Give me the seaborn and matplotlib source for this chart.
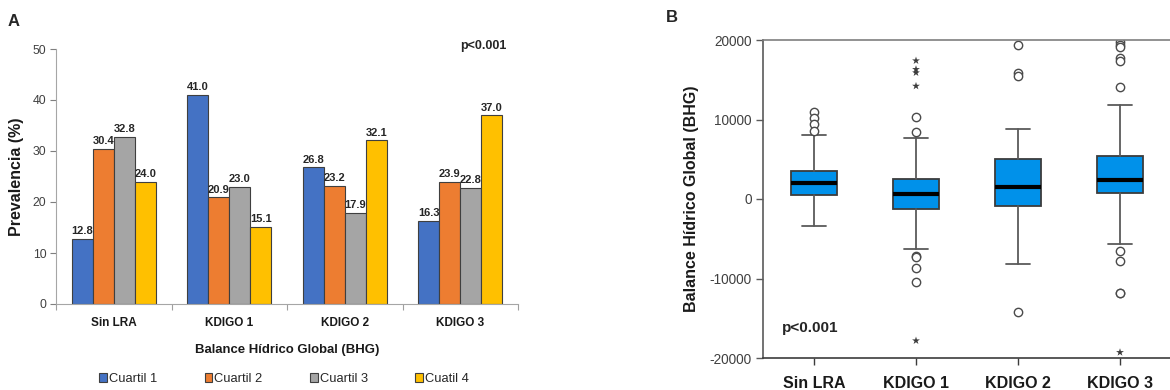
import matplotlib
matplotlib.use('Agg')
import matplotlib.pyplot as plt
from matplotlib import font_manager
import seaborn as sns
import pandas as pd
import numpy as np

# ---------------- data ----------------
grupos = ['Sin LRA', 'KDIGO 1', 'KDIGO 2', 'KDIGO 3']
cuartiles = ['Cuartil 1', 'Cuartil 2', 'Cuartil 3', 'Cuatil 4']
prev_c1 = [12.8, 41.0, 26.8, 16.3]
prev_c2 = [30.4, 20.9, 23.2, 23.9]
prev_c3 = [32.8, 23.0, 17.9, 22.8]
prev_c4 = [24.0, 15.1, 32.1, 37.0]

bhg_q1 = [465, -1300, -840, 755]
bhg_med = [1970, 590, 1470, 2350]
bhg_q3 = [3560, 2480, 5070, 5410]
bhg_whislo = [-3400, -6290, -8220, -5700]
bhg_whishi = [8090, 7710, 8810, 11820]
bhg_out_circ = [[10980, 10190, 9400, 8590],
                [10350, 8390, -7130, -7260, -8720, -10400],
                [19370, 15810, 15510, -14180],
                [19790, 19370, 19160, 17700, 17400, 14130, -6500, -7760, -11790, -11830]]
bhg_out_star = [[], [17400, 16310, 15890, 14210, -17820], [], [-19290]]

# ---------------- style ----------------
sns.set_theme(style='ticks')
names = {f.name for f in font_manager.fontManager.ttflist}
NARROW = 'Liberation Sans Narrow' in names
plt.rcParams['font.family'] = ['Liberation Sans', 'DejaVu Sans']
plt.rcParams['axes.unicode_minus'] = False
nf = ['Liberation Sans Narrow', 'Liberation Sans', 'DejaVu Sans'] if NARROW else ['Liberation Sans', 'DejaVu Sans']
k = 1.0 if NARROW else 0.82

fig = plt.figure(figsize=(11.7, 3.9), dpi=100)
W, H = 1170, 390

def pos(l, t, r, b):
    return [l / W, 1 - b / H, (r - l) / W, (b - t) / H]

# ---------------- panel A ----------------
ax1 = fig.add_axes(pos(56, 49, 518, 304))
df = pd.DataFrame({
    'grupo': grupos * 4,
    'cuartil': [c for c in cuartiles for _ in grupos],
    'prev': prev_c1 + prev_c2 + prev_c3 + prev_c4,
})
pal = ['#4472C4', '#ED7D31', '#A5A5A5', '#FFC000']
sns.barplot(data=df, x='grupo', y='prev', hue='cuartil', order=grupos, hue_order=cuartiles,
            palette=pal, width=0.73, edgecolor='#3f3f3f', linewidth=0.8, saturation=1,
            ax=ax1, legend=True)
for cont in ax1.containers:
    ax1.bar_label(cont, fmt='%.1f', padding=2, fontsize=9.8 * k, fontweight='bold',
                  family=nf, color='#262626')
ax1.set_ylim(0, 50)
ax1.set_xlim(-0.5, 3.5)
ax1.set_yticks([0, 10, 20, 30, 40, 50])
ax1.tick_params(axis='y', labelsize=10.8 * k, colors='#7f7f7f', labelcolor='#404040', length=4, width=0.8, pad=3)
for t in ax1.get_yticklabels():
    t.set_family(nf)
ax1.set_xticks(range(4))
ax1.set_xticklabels(grupos, fontsize=10.3 * k, fontweight='bold', family=nf, color='#1a1a1a')
ax1.tick_params(axis='x', length=0, pad=9)
ax1.set_xticks([-0.5, 0.5, 1.5, 2.5, 3.5], minor=True)
ax1.tick_params(axis='x', which='minor', length=4, width=0.8, colors='#9f9f9f')
ax1.set_xlabel('Balance Hídrico Global (BHG)', fontsize=11.5 * k, fontweight='bold', family=nf,
               labelpad=11, color='#1a1a1a')
ax1.set_ylabel('Prevalencia (%)', fontsize=11.5, fontweight='bold', labelpad=6, color='#1a1a1a')
sns.despine(ax=ax1)
ax1.spines['left'].set_color('#a6a6a6')
ax1.spines['bottom'].set_color('#a6a6a6')
ax1.spines['left'].set_linewidth(0.8)
ax1.spines['bottom'].set_linewidth(0.8)
ax1.text(507 / W, 1 - 46 / H, 'p<0.001', transform=fig.transFigure, ha='right', va='center',
         fontsize=11 * k, fontweight='bold', family=nf)

handles, labels = ax1.get_legend_handles_labels()
ax1.get_legend().remove()
fig.legend(handles, labels, loc='center', bbox_to_anchor=(284 / W, 1 - 379 / H), ncol=4,
           frameon=False, prop={'family': nf, 'size': 11.3 * k}, handlelength=0.6, handleheight=0.6,
           handletextpad=0.15, columnspacing=3.7, borderaxespad=0)

# ---------------- panel B ----------------
ax2 = fig.add_axes(pos(763, 40, 1171, 358))
stats = []
for i, g in enumerate(grupos):
    stats.append(dict(label=g, med=bhg_med[i], q1=bhg_q1[i], q3=bhg_q3[i],
                      whislo=bhg_whislo[i], whishi=bhg_whishi[i], fliers=bhg_out_circ[i]))
ax2.bxp(stats, positions=range(4), widths=0.45, capwidths=0.23, patch_artist=True,
        boxprops=dict(facecolor='#0091EA', edgecolor='#3c3c3c', linewidth=1.3),
        medianprops=dict(color='black', linewidth=3),
        whiskerprops=dict(color='#5a5a5a', linewidth=1.3),
        capprops=dict(color='#5a5a5a', linewidth=1.3),
        flierprops=dict(marker='o', markerfacecolor='white', markeredgecolor='#4a4a4a',
                        markersize=6, markeredgewidth=1.0))
star_df = pd.DataFrame({'x': [i for i, v in enumerate(bhg_out_star) for _ in v],
                        'y': [y for v in bhg_out_star for y in v]})
sns.scatterplot(data=star_df, x='x', y='y', marker='*', s=35, color='#3c3c3c', edgecolor='none', ax=ax2)
ax2.set_xlim(-0.5, 3.5)
ax2.set_ylim(-20000, 20000)
ax2.set_yticks([-20000, -10000, 0, 10000, 20000])
ax2.set_xticks(range(4))
ax2.set_xticklabels(grupos, fontsize=11.5, fontweight='bold', color='#1a1a1a')
ax2.tick_params(axis='x', length=5, width=1, colors='#3c3c3c', pad=8, labelcolor='#1a1a1a')
ax2.tick_params(axis='y', length=5, width=1, colors='#5a5a5a', labelsize=9.8, labelcolor='#404040', pad=3)
ax2.set_xlabel('')
ax2.set_ylabel('Balance Hídrico Global (BHG)', fontsize=11.5, fontweight='bold', labelpad=8, color='#1a1a1a')
ax2.spines['right'].set_visible(False)
ax2.spines['top'].set_color('#7f7f7f')
ax2.spines['left'].set_color('#5a5a5a')
ax2.spines['bottom'].set_color('#3c3c3c')
for s in ['top', 'left', 'bottom']:
    ax2.spines[s].set_linewidth(1.2)
ax2.text(782 / W, 1 - 328 / H, 'p<0.001', transform=fig.transFigure, ha='left', va='center',
         fontsize=11, fontweight='bold')

fig.text(14 / W, 1 - 22 / H, 'A', ha='center', va='center', fontsize=12, fontweight='bold')
fig.text(672 / W, 1 - 18 / H, 'B', ha='center', va='center', fontsize=12, fontweight='bold')

fig.savefig('out.png', dpi=100)
